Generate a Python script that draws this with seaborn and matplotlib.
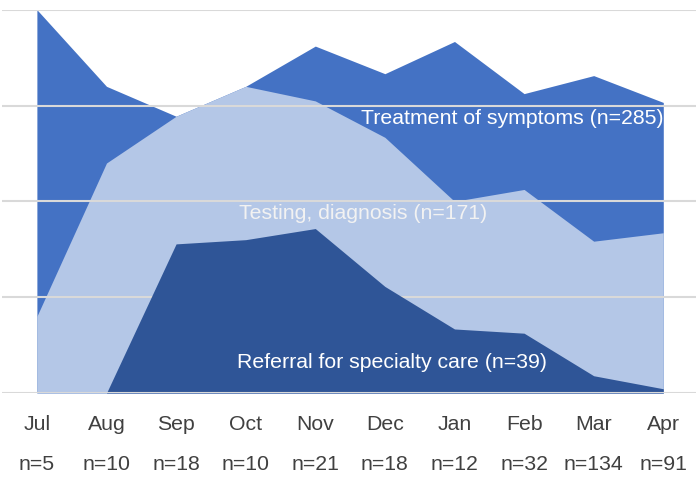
import matplotlib
matplotlib.use("Agg")
import matplotlib.pyplot as plt
import seaborn as sns
import numpy as np

months = ['Jul', 'Aug', 'Sep', 'Oct', 'Nov', 'Dec', 'Jan', 'Feb', 'Mar', 'Apr']
n_counts = [5, 10, 18, 10, 21, 18, 12, 32, 134, 91]

# percent of patients per month
treatment = [100, 80, 72.2, 80, 90.5, 83.3, 91.7, 78.1, 82.8, 75.8]
testing = [20, 60, 72.2, 80, 76.2, 66.7, 50, 53.1, 39.6, 41.8]
referral = [0, 0, 38.9, 40, 42.9, 27.8, 16.7, 15.6, 4.5, 1.1]

sns.set_theme(style='white')
plt.rcParams['font.family'] = ['Liberation Sans', 'DejaVu Sans']

fig = plt.figure(figsize=(6.96, 4.81), dpi=100)
ax = fig.add_axes([0.003, 0.1809, 0.997, 0.7969])

x = np.arange(len(months))
ax.fill_between(x, 0, treatment, color='#4472C4', lw=0, zorder=1)
ax.fill_between(x, 0, testing, color='#B4C7E7', lw=0, zorder=1.5)
for g in [25, 50, 75, 100]:
    ax.axhline(g, color='#D9D9D9', lw=1.5, zorder=2)
ax.fill_between(x, 0, referral, color='#2F5597', lw=0, zorder=3)
ax.axhline(0, color='#D9D9D9', lw=1.5, zorder=4)

fs = 15.3
ax.text(9, 72, 'Treatment of symptoms (n=285)', color='white', fontsize=fs,
        ha='right', va='center', zorder=5)
ax.text(4.69, 47.2, 'Testing, diagnosis (n=171)', color='#F2F2F2', fontsize=fs,
        ha='center', va='center', zorder=5)
ax.text(5.1, 8.1, 'Referral for specialty care (n=39)', color='white', fontsize=fs,
        ha='center', va='center', zorder=5)

ax.set_xlim(-0.5, 9.47)
ax.set_ylim(0, 100)
ax.set_xticks(x)
ax.set_xticklabels([f'{m}\nn={n}' for m, n in zip(months, n_counts)],
                   fontsize=fs, color='#404040', linespacing=2.4)
ax.tick_params(axis='x', length=0, pad=15)
ax.set_yticks([])
for s in ax.spines.values():
    s.set_visible(False)

fig.savefig('out.png', dpi=100)
